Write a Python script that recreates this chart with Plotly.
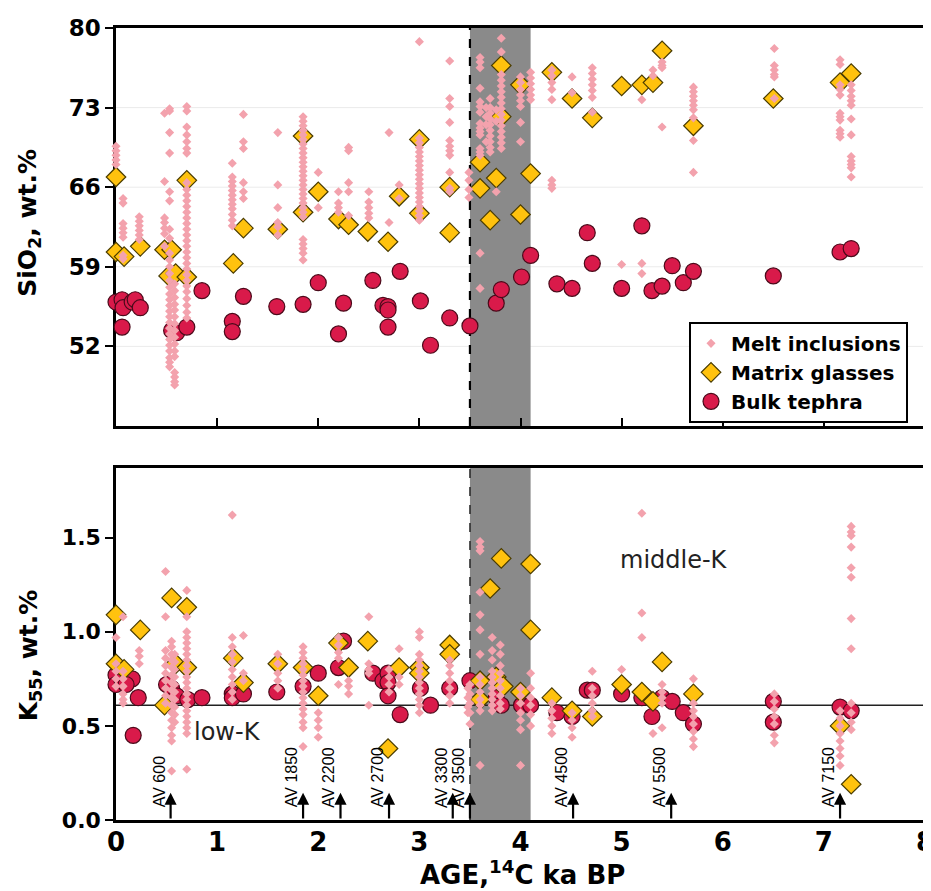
import plotly.graph_objects as go

# ---------------- Data ----------------
# Top panel: SiO2, wt.%
bt_si_age = [0.0, 0.06, 0.07, 0.16, 0.19, 0.24, 0.06, 0.55, 0.60, 0.70, 0.85, 1.15, 1.15, 1.26,
             1.59, 1.85, 2.00, 2.20, 2.25, 2.54, 2.64, 2.69, 2.69, 2.69, 2.81, 3.01, 3.11, 3.30,
             3.50, 3.76, 3.81, 4.01, 4.10, 4.36, 4.51, 4.66, 4.71, 5.00, 5.20, 5.30, 5.40, 5.50,
             5.61, 5.71, 6.50, 7.16, 7.27]
bt_si_val = [55.9, 56.1, 55.4, 55.9, 56.1, 55.4, 53.7, 53.4, 53.2, 53.7, 56.9, 54.2, 53.3, 56.4,
             55.5, 55.7, 57.6, 53.1, 55.8, 57.8, 55.6, 55.5, 55.2, 53.7, 58.6, 56.0, 52.1, 54.5,
             53.8, 55.8, 57.0, 58.1, 60.0, 57.5, 57.1, 62.0, 59.3, 57.1, 62.6, 56.9, 57.3, 59.1,
             57.6, 58.6, 58.2, 60.3, 60.6]

mg_si_age = [0.0, 0.0, 0.08, 0.24, 0.48, 0.55, 0.52, 0.59, 0.70, 0.70, 1.16, 1.26, 1.60, 1.85,
             1.85, 2.00, 2.20, 2.30, 2.49, 2.69, 2.80, 3.00, 3.00, 3.30, 3.30, 3.81, 4.00, 3.81,
             3.60, 3.60, 3.76, 3.70, 4.00, 4.10, 4.31, 4.51, 4.71, 5.00, 5.20, 5.31, 5.40, 5.71,
             6.50, 7.16, 7.27]
mg_si_val = [66.9, 60.3, 59.9, 60.8, 60.5, 60.5, 58.2, 58.4, 58.1, 66.6, 59.3, 62.4, 62.3, 70.5,
             63.8, 65.6, 63.2, 62.7, 62.1, 61.2, 65.2, 70.2, 63.7, 66.0, 62.0, 76.7, 75.0, 72.2,
             68.2, 65.9, 66.8, 63.1, 63.6, 67.2, 76.1, 73.8, 72.1, 74.9, 75.0, 75.2, 78.0, 71.4,
             73.8, 75.2, 76.0]

mi_si_ages = [0.0, 0.07, 0.23, 0.48, 0.53, 0.58, 0.70, 1.15, 1.26, 1.60, 1.85, 2.00, 2.20, 2.30,
              2.50, 2.70, 2.80, 3.00, 3.30, 3.49, 3.60, 3.66, 3.70, 3.76, 3.81, 4.00, 4.10, 4.31,
              4.51, 4.71, 5.00, 5.20, 5.31, 5.40, 5.71, 6.51, 7.16, 7.27]
mi_si_vals = [
    [69.6, 69.2, 68.8, 68.4, 68.0],
    [65.0, 64.6, 62.8, 62.4, 62.0, 61.6, 60.0, 59.7],
    [63.4, 63.0, 62.6, 62.2, 61.8, 61.4],
    [72.5, 66.5, 63.3, 62.9, 62.4, 61.9, 60.8],
    [72.7, 72.9, 70.8, 69.0, 65.6, 64.8, 62.3, 61.5, 60.2, 59.6, 59.0, 58.4, 57.8, 57.2, 56.6,
     56.1, 55.6, 55.1, 54.6, 54.1, 53.6, 53.1, 52.6, 52.1, 51.6, 51.0, 50.6, 50.2],
    [57.5, 56.9, 56.3, 55.7, 55.2, 54.6, 54.0, 53.4, 52.8, 52.2, 51.6, 51.1, 49.7, 49.3, 48.9, 48.6],
    [73.1, 72.7, 71.3, 70.6, 70.0, 69.4, 69.0, 66.4, 65.8, 65.3, 64.8, 64.3, 63.8, 63.3, 62.8,
     62.3, 61.8, 61.3, 60.8, 60.3, 59.8, 59.3, 58.8, 58.3, 57.8, 57.3, 56.8, 56.2, 55.6, 55.0, 54.5],
    [68.1, 66.9, 66.5, 66.1, 65.7, 65.3, 64.9, 64.5, 64.1, 63.6, 63.1, 62.6],
    [72.4, 70.0, 69.4, 66.4, 65.6, 65.0],
    [70.8, 66.2, 64.2, 62.9, 62.5, 61.8],
    [72.2, 71.8, 71.4, 71.0, 70.6, 70.2, 69.8, 69.4, 69.0, 68.6, 68.2, 67.8, 67.4, 67.0, 66.6,
     66.2, 65.8, 65.4, 65.0, 64.6, 64.2, 63.8, 63.4, 61.4, 61.0, 60.6, 60.2, 59.6],
    [67.3, 64.2],
    [65.6, 64.6, 64.2, 63.8],
    [69.5, 69.2, 66.4, 65.6, 63.5],
    [65.6, 64.7, 64.2, 63.7, 63.3],
    [70.8, 62.9],
    [66.2, 65.0],
    [78.8, 70.3, 69.9, 69.5, 69.1, 68.7, 68.3, 67.9, 67.5, 67.1, 66.7, 66.3, 65.9, 65.5, 65.1,
     64.7, 64.3, 63.9, 63.5, 63.1],
    [77.1, 73.8, 73.1, 71.7, 70.1, 69.6, 69.2, 68.8, 67.3, 65.9, 65.6],
    [67.3, 66.6, 65.8, 65.1],
    [77.4, 77.0, 76.5, 74.7, 73.5, 73.1, 72.6, 71.6, 71.2, 70.9, 70.6, 69.4, 69.1, 68.8, 60.2, 57.1],
    [73.0, 72.2, 71.5, 70.0],
    [73.8, 73.0, 72.5, 72.0, 71.5, 71.0, 70.5, 70.0, 69.5, 69.1],
    [65.6, 71.8, 72.8],
    [79.1, 77.9, 75.9, 75.4, 74.9, 74.4, 73.9, 73.4, 72.9, 72.4, 71.9, 71.4, 70.9, 70.4, 69.9, 69.4],
    [75.7, 75.2, 74.6, 74.1, 73.6, 73.1, 71.7, 70.0],
    [76.1, 75.6, 75.1, 74.6, 74.1, 73.7],
    [76.3, 75.8, 75.2, 74.6, 73.7, 66.6, 66.2, 65.9],
    [75.7, 74.3],
    [76.5, 76.0, 75.5, 75.0, 74.5, 73.9, 72.6],
    [59.2],
    [73.7, 59.3, 58.4],
    [76.3, 75.8],
    [77.0, 76.7, 76.5, 71.3],
    [74.8, 74.4, 74.0, 73.6, 73.2, 72.8, 72.1, 70.1, 67.3],
    [78.2, 76.7, 76.3, 75.9, 75.7, 73.8],
    [77.2, 76.8, 75.0, 74.6, 74.1, 72.5, 72.2, 71.9, 71.0, 70.7, 70.4],
    [75.0, 74.5, 74.0, 73.6, 73.2, 72.0, 70.6, 68.7, 68.3, 68.0, 67.7, 66.9],
]

# Bottom panel: K55, wt.%
bt_k_age = [0.0, 0.0, 0.06, 0.16, 0.10, 0.22, 0.17, 0.50, 0.55, 0.60, 0.71, 0.85, 1.15, 1.15,
            1.26, 1.59, 1.85, 2.00, 2.20, 2.25, 2.54, 2.64, 2.69, 2.69, 2.69, 2.81, 3.01, 3.11,
            3.30, 3.50, 3.76, 3.81, 4.01, 4.10, 4.36, 4.51, 4.66, 4.71, 5.00, 5.20, 5.30, 5.40,
            5.50, 5.61, 5.71, 6.50, 6.50, 7.16, 7.27]
bt_k_val = [0.77, 0.72, 0.74, 0.75, 0.72, 0.65, 0.45, 0.72, 0.70, 0.66, 0.64, 0.65, 0.67, 0.65,
            0.67, 0.68, 0.71, 0.78, 0.81, 0.95, 0.78, 0.74, 0.78, 0.73, 0.66, 0.56, 0.70, 0.61,
            0.70, 0.74, 0.65, 0.61, 0.61, 0.61, 0.57, 0.55, 0.69, 0.69, 0.67, 0.65, 0.55, 0.65,
            0.63, 0.57, 0.51, 0.63, 0.52, 0.60, 0.58]

mg_k_age = [0.0, 0.0, 0.08, 0.24, 0.48, 0.55, 0.59, 0.70, 0.70, 1.16, 1.26, 1.60, 1.85, 2.00,
            2.20, 2.30, 2.49, 2.69, 2.80, 3.00, 3.00, 3.30, 3.30, 3.60, 3.60, 3.70, 3.76, 3.81,
            3.83, 4.00, 4.10, 4.10, 4.31, 4.51, 4.71, 5.00, 5.20, 5.31, 5.40, 5.71, 7.16, 7.27]
mg_k_val = [1.09, 0.83, 0.80, 1.01, 0.61, 1.18, 0.83, 1.13, 0.81, 0.86, 0.73, 0.83, 0.81, 0.66,
            0.94, 0.81, 0.95, 0.38, 0.81, 0.81, 0.78, 0.93, 0.88, 0.74, 0.64, 1.23, 0.76, 1.39,
            0.71, 0.68, 1.36, 1.01, 0.65, 0.58, 0.55, 0.72, 0.68, 0.63, 0.84, 0.67, 0.50, 0.19]

mi_k_ages = [0.0, 0.07, 0.23, 0.49, 0.55, 0.58, 0.70, 1.15, 1.26, 1.60, 1.85, 2.00, 2.20, 2.30,
             2.50, 2.70, 2.80, 3.00, 3.30, 3.48, 3.50, 3.60, 3.72, 3.80, 4.00, 4.10, 4.31, 4.51,
             4.71, 5.00, 5.20, 5.31, 5.40, 5.71, 6.51, 7.16, 7.27]
mi_k_vals = [
    [0.97, 0.83, 0.79, 0.75, 0.71],
    [1.08, 0.79, 0.75, 0.71, 0.67, 0.64, 0.62],
    [0.90, 0.87, 0.83],
    [1.32, 1.08, 0.90, 0.86, 0.82, 0.78, 0.74, 0.70, 0.66, 0.62],
    [0.95, 0.92, 0.88, 0.85, 0.81, 0.77, 0.73, 0.69, 0.65, 0.61, 0.57, 0.53, 0.49, 0.45, 0.42, 0.26],
    [0.88, 0.84, 0.80, 0.76, 0.72, 0.68, 0.64, 0.60, 0.56, 0.52],
    [1.22, 1.08, 1.00, 0.97, 0.94, 0.91, 0.88, 0.85, 0.82, 0.79, 0.76, 0.73, 0.70, 0.67, 0.64,
     0.61, 0.58, 0.55, 0.52, 0.49, 0.46, 0.27],
    [1.62, 0.97, 0.92, 0.88, 0.84, 0.80, 0.76, 0.72, 0.68, 0.64],
    [0.98, 0.78, 0.74],
    [0.88, 0.83, 0.78, 0.74, 0.70],
    [0.92, 0.89, 0.86, 0.83, 0.80, 0.77, 0.74, 0.71, 0.68, 0.65, 0.62, 0.59, 0.56, 0.52, 0.49, 0.39],
    [0.57, 0.53, 0.49, 0.44],
    [0.97, 0.93, 0.89, 0.86, 0.72],
    [0.74, 0.71, 0.67],
    [1.08, 0.83, 0.80, 0.78, 0.61],
    [0.80, 0.76, 0.72, 0.68],
    [0.91, 0.76, 0.72],
    [1.00, 0.97, 0.88, 0.85, 0.82, 0.79, 0.76, 0.73, 0.70, 0.67, 0.64, 0.61, 0.57],
    [0.85, 0.82, 0.78, 0.74, 0.70, 0.66, 0.62],
    [0.70, 0.65, 0.60, 0.57],
    [0.72, 0.67, 0.62, 0.57, 0.51],
    [1.48, 1.45, 1.43, 1.21, 1.09, 1.01, 0.88, 0.76, 0.72, 0.68, 0.64, 0.61, 0.58, 0.29],
    [0.97, 0.90, 0.85, 0.79, 0.76, 0.73, 0.70, 0.67, 0.64, 0.61, 0.58],
    [0.93, 0.88, 0.82, 0.78, 0.74, 0.70, 0.66, 0.62, 0.59],
    [0.70, 0.66, 0.62, 0.57, 0.53, 0.48, 0.29],
    [0.78, 0.70, 0.65, 0.61, 0.56, 0.50],
    [0.62, 0.58, 0.54, 0.50, 0.46],
    [0.57, 0.53, 0.49, 0.44],
    [0.79, 0.70, 0.66, 0.62, 0.58, 0.55],
    [0.80],
    [1.63, 1.10, 0.97],
    [0.46],
    [0.72, 0.68, 0.65, 0.62, 0.49],
    [0.75, 0.62, 0.58, 0.55, 0.51, 0.47, 0.43, 0.39],
    [0.67, 0.63, 0.59, 0.55, 0.51, 0.45, 0.41],
    [0.58, 0.54, 0.50, 0.46, 0.42, 0.38, 0.34, 0.29],
    [1.56, 1.53, 1.51, 1.45, 1.34, 1.29, 1.07, 0.91, 0.62, 0.57, 0.52, 0.48],
]

av_ages = [0.54, 1.85, 2.22, 2.70, 3.33, 3.50, 4.52, 5.49, 7.16]
av_labels = ["AV 600", "AV 1850", "AV 2200", "AV 2700", "AV 3300", "AV 3500",
             "AV 4500", "AV 5500", "AV 7150"]

band_start, band_end = 3.5, 4.1
k_boundary = 0.61

si_ticks = [52, 59, 66, 73, 80]
si_grid = [52, 59, 66, 73]
k_ticks = [0.0, 0.5, 1.0, 1.5]
k_ticktext = ["0.0", "0.5", "1.0", "1.5"]
age_ticks = [0, 1, 2, 3, 4, 5, 6, 7, 8]


def expand(ages, vals):
    xs, ys = [], []
    for a, col in zip(ages, vals):
        for v in col:
            xs.append(a)
            ys.append(v)
    return xs, ys


mi_si_x, mi_si_y = expand(mi_si_ages, mi_si_vals)
mi_k_x, mi_k_y = expand(mi_k_ages, mi_k_vals)

BOLD = "DejaVu Sans, sans-serif"
PLAIN = "Liberation Sans, Arial, sans-serif"
PINK = "#F3A2AD"
GOLD = "#FFC20E"
RED = "#D91A4A"

mi_marker = dict(symbol="diamond", size=7, color=PINK, line=dict(width=0))
mg_marker = dict(symbol="diamond", size=15, color=GOLD, line=dict(color="#4a3c00", width=1.2))
bt_marker = dict(symbol="circle", size=16, color=RED, line=dict(color="#4a0a1a", width=1.2))

fig = go.Figure()

# top panel
fig.add_trace(go.Scatter(x=bt_si_age, y=bt_si_val, mode="markers", marker=bt_marker,
                         name="Bulk tephra", legendrank=3, xaxis="x", yaxis="y", cliponaxis=False))
fig.add_trace(go.Scatter(x=mg_si_age, y=mg_si_val, mode="markers", marker=mg_marker,
                         name="Matrix glasses", legendrank=2, xaxis="x", yaxis="y", cliponaxis=False))
fig.add_trace(go.Scatter(x=mi_si_x, y=mi_si_y, mode="markers", marker=mi_marker,
                         name="Melt inclusions", legendrank=1, xaxis="x", yaxis="y", cliponaxis=False))
# bottom panel
fig.add_trace(go.Scatter(x=bt_k_age, y=bt_k_val, mode="markers", marker=bt_marker,
                         showlegend=False, xaxis="x2", yaxis="y2", cliponaxis=False))
fig.add_trace(go.Scatter(x=mg_k_age, y=mg_k_val, mode="markers", marker=mg_marker,
                         showlegend=False, xaxis="x2", yaxis="y2", cliponaxis=False))
fig.add_trace(go.Scatter(x=mi_k_x, y=mi_k_y, mode="markers", marker=mi_marker,
                         showlegend=False, xaxis="x2", yaxis="y2", cliponaxis=False))

# faint horizontal guide lines at the SiO2 tick values (drawn under the grey band)
shapes = [dict(type="line", xref="x domain", yref="y", x0=0, x1=1, y0=g, y1=g,
               line=dict(color="#ebebeb", width=1), layer="below") for g in si_grid]
shapes += [
    dict(type="rect", xref="x", yref="y domain", x0=band_start, x1=band_end, y0=0, y1=1,
         fillcolor="#8a8a8a", line=dict(width=0), layer="below"),
    dict(type="rect", xref="x2", yref="y2 domain", x0=band_start, x1=band_end, y0=0, y1=1,
         fillcolor="#8a8a8a", line=dict(width=0), layer="below"),
    dict(type="line", xref="x", yref="y domain", x0=band_start, x1=band_start, y0=0, y1=1,
         line=dict(color="black", width=2.2, dash="dash"), layer="below"),
    dict(type="line", xref="x2", yref="y2 domain", x0=band_start, x1=band_start, y0=0, y1=1,
         line=dict(color="black", width=1.2, dash="dash"), layer="below"),
    dict(type="line", xref="x2 domain", yref="y2", x0=0, x1=1, y0=k_boundary, y1=k_boundary,
         line=dict(color="#222", width=1.6), layer="below"),
]

annotations = []
for a, lab in zip(av_ages, av_labels):
    annotations.append(dict(x=a, y=0.145, ax=a, ay=0.0, xref="x2", yref="y2", axref="x2",
                            ayref="y2", showarrow=True, arrowhead=2, arrowsize=1.1,
                            arrowwidth=2.2, arrowcolor="black", text=""))
    annotations.append(dict(x=a, y=0.055, xref="x2", yref="y2", text=lab, textangle=-90,
                            xanchor="right", yanchor="bottom", xshift=-1, showarrow=False,
                            font=dict(family=PLAIN, size=16, color="black")))

annotations += [
    dict(x=1.1, y=0.47, xref="x2", yref="y2", text="low-K", showarrow=False,
         font=dict(family="DejaVu Sans", size=24, color="#222")),
    dict(x=5.52, y=1.38, xref="x2", yref="y2", text="middle-K", showarrow=False,
         font=dict(family="DejaVu Sans", size=24, color="#222")),
    dict(x=0, y=0.754, xref="paper", yref="paper", xshift=-87, xanchor="center",
         yanchor="middle", text="<b>SiO<sub>2</sub>, wt.%</b>",
         textangle=-90, showarrow=False, font=dict(family=BOLD, size=25, color="black")),
    dict(x=0, y=0.208, xref="paper", yref="paper", xshift=-86, xanchor="center",
         yanchor="middle", text="<b>K<sub>55</sub>, wt.%</b>",
         textangle=-90, showarrow=False, font=dict(family=BOLD, size=25, color="black")),
    dict(x=0.502, y=0, xref="paper", yref="paper", yshift=-53, xanchor="center",
         yanchor="middle", text="<b>AGE,<sup>14</sup>C ka BP</b>", showarrow=False,
         font=dict(family=BOLD, size=26, color="black")),
]

axis_common = dict(showline=True, linecolor="black", linewidth=2.5, mirror=True,
                   zeroline=False, layer="below traces")

fig.update_layout(
    width=923, height=883,
    margin=dict(l=108, r=6, t=20, b=71, autoexpand=False),
    paper_bgcolor="white", plot_bgcolor="white",
    font=dict(family=BOLD, color="black"),
    showlegend=True,
    legend=dict(x=0.979, y=0.629, xanchor="right", yanchor="top",
                bordercolor="black", borderwidth=2, bgcolor="white",
                font=dict(family=BOLD, size=20, color="black", weight="bold"),
                tracegroupgap=0, itemwidth=30),
    xaxis=dict(domain=[0, 1], range=[0, 8], tickvals=age_ticks, showticklabels=False,
               ticks="inside", ticklen=8, tickwidth=2, tickcolor="black", showgrid=False,
               anchor="y", **axis_common),
    yaxis=dict(domain=[0.4975, 1], range=[45, 80], tickvals=si_ticks, ticks="outside",
               ticklen=8, tickwidth=2, tickcolor="black", showgrid=False,
               tickfont=dict(family=BOLD, size=23, weight="bold"),
               anchor="x", **axis_common),
    xaxis2=dict(domain=[0, 1], range=[0, 8], tickvals=age_ticks, ticks="", showgrid=False,
                tickfont=dict(family=BOLD, size=26, weight="bold"), anchor="y2",
                ticklabelstandoff=-3, ticklabeloverflow="allow", **axis_common),
    yaxis2=dict(domain=[0, 0.4444], range=[0, 1.87], tickvals=k_ticks, ticktext=k_ticktext,
                ticks="outside", ticklen=8, tickwidth=2, tickcolor="black", showgrid=False,
                tickfont=dict(family=BOLD, size=22, weight="bold"), anchor="x2",
                **axis_common),
    shapes=shapes,
    annotations=annotations,
)

fig.write_html("out.html")
